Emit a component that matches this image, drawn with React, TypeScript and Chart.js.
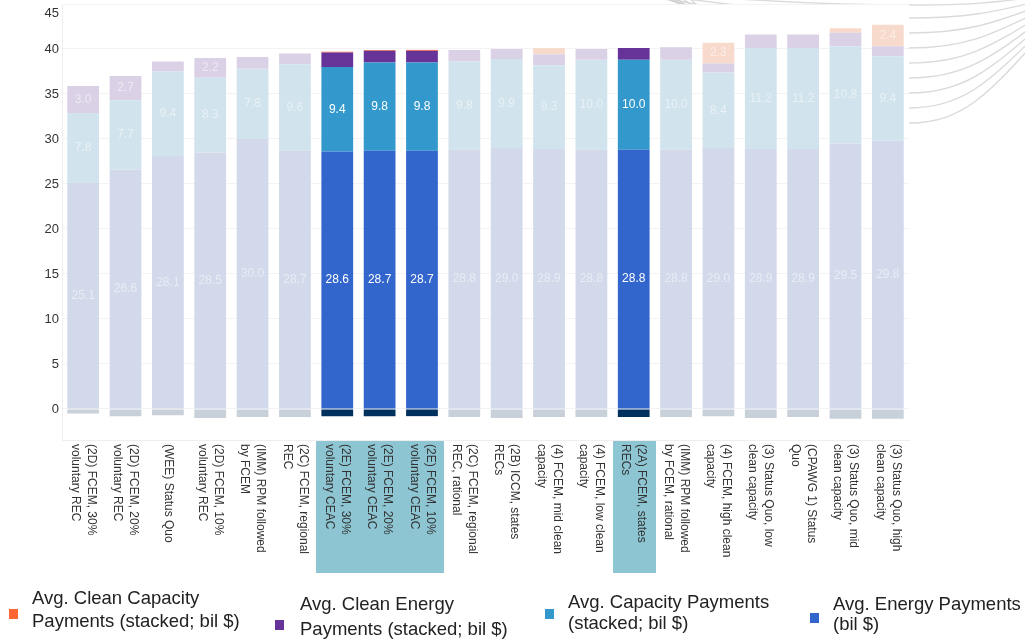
import React, { useEffect, useRef } from "react";
import { Chart, registerables } from "chart.js";

Chart.register(...registerables);

// ---------------- DATA ----------------
const categories: string[][] = [
  ["(2D) FCEM, 30%", "voluntary REC"],
  ["(2D) FCEM, 20%", "voluntary REC"],
  ["(WEE) Status Quo"],
  ["(2D) FCEM, 10%", "voluntary REC"],
  ["(IMM) RPM followed", "by FCEM"],
  ["(2C) FCEM, regional", "REC"],
  ["(2E) FCEM, 30%", "voluntary CEAC"],
  ["(2E) FCEM, 20%", "voluntary CEAC"],
  ["(2E) FCEM, 10%", "voluntary CEAC"],
  ["(2C) FCEM, regional", "REC, rational"],
  ["(2B) ICCM, states", "RECs"],
  ["(4) FCEM, mid clean", "capacity"],
  ["(4) FCEM, low clean", "capacity"],
  ["(2A) FCEM, states", "RECs"],
  ["(IMM) RPM followed", "by FCEM, rational"],
  ["(4) FCEM, high clean", "capacity"],
  ["(3) Status Quo, low", "clean capacity"],
  ["(CPAWG 1) Status", "Quo"],
  ["(3) Status Quo, mid", "clean capacity"],
  ["(3) Status Quo, high", "clean capacity"],
];

const highlighted: number[] = [6, 7, 8, 13];

const energyPayments: number[] = [25.1, 26.6, 28.1, 28.5, 30.0, 28.7, 28.6, 28.7, 28.7, 28.8, 29.0, 28.9, 28.8, 28.8, 28.8, 29.0, 28.9, 28.9, 29.5, 29.8];
const capacityPayments: number[] = [7.8, 7.7, 9.4, 8.3, 7.8, 9.6, 9.4, 9.8, 9.8, 9.8, 9.9, 9.3, 10.0, 10.0, 10.0, 8.4, 11.2, 11.2, 10.8, 9.4];
const cleanEnergyPayments: number[] = [3.0, 2.7, 1.1, 2.2, 1.3, 1.2, 1.6, 1.3, 1.3, 1.3, 1.1, 1.2, 1.2, 1.3, 1.4, 1.0, 1.5, 1.5, 1.5, 1.1];
const cleanCapacityPayments: number[] = [0, 0, 0, 0, 0, 0, 0.1, 0.1, 0.1, 0, 0, 0.7, 0, 0, 0, 2.3, 0, 0, 0.5, 2.4];
const otherPayments: number[] = [-0.5, -0.8, -0.7, -1.0, -0.9, -0.9, -0.8, -0.8, -0.8, -0.9, -1.0, -0.9, -0.9, -0.9, -0.9, -0.8, -1.0, -0.9, -1.1, -1.1];

const yTicks: number[] = [0, 5, 10, 15, 20, 25, 30, 35, 40, 45];

const cleanCapacityLabel: string[] = ["Avg. Clean Capacity", "Payments (stacked; bil $)"];
const cleanEnergyLabel: string[] = ["Avg. Clean Energy", "Payments (stacked; bil $)"];
const capacityLabel: string[] = ["Avg. Capacity Payments", "(stacked; bil $)"];
const energyLabel: string[] = ["Avg. Energy Payments", "(bil $)"];
const otherLabel: string[] = ["Other Payments (bil $)"];

// ---------------- STYLE ----------------
const FONT = '"Liberation Sans", Arial, sans-serif';

const colors = {
  energy: ["#3366cc", "#d1d9ea"],
  capacity: ["#3399cc", "#d1e3ec"],
  cleanEnergy: ["#663399", "#dbd1e6"],
  cleanCapacity: ["#ff6633", "#f8dacd"],
  other: ["#00305e", "#c8d0da"],
};

const colorArr = (pair: string[]) =>
  categories.map((_, i) => (highlighted.includes(i) ? pair[0] : pair[1]));

// legend layout (order: clean capacity, clean energy, capacity, energy)
const legendLayout = [
  { sq: [9, 609], tx: 32, l1: 599, l2: 622 },
  { sq: [275, 620], tx: 300, l1: 605, l2: 630 },
  { sq: [545, 609], tx: 568, l1: 603, l2: 624 },
  { sq: [810, 613], tx: 833, l1: 605, l2: 625 },
];

const customPlugin = {
  id: "custom",
  beforeDraw(chart: any) {
    const { ctx, chartArea: a } = chart;
    ctx.save();
    // decorative background curves (top right)
    ctx.strokeStyle = "rgba(205,205,205,0.75)";
    ctx.lineWidth = 1.4;
    const ys = [5, 18, 33, 48, 63, 78, 93, 108, 123];
    ys.forEach((y, k) => {
      ctx.beginPath();
      ctx.moveTo(600 + k * 10, -12);
      ctx.bezierCurveTo(760, y * 0.6, 860, y, a.right, y);
      ctx.bezierCurveTo(a.right + 55, y, 990, y * 0.75, 1045, y * 0.3 - 6);
      ctx.stroke();
    });
    // white plot background
    ctx.fillStyle = "#ffffff";
    ctx.fillRect(a.left, a.top, a.right - a.left, a.bottom - a.top);
    // highlight boxes behind x labels
    const xs = chart.scales.x;
    const cw = (a.right - a.left) / categories.length;
    ctx.fillStyle = "#8dc5d3";
    highlighted.forEach((i) => {
      const cx = xs.getPixelForValue(i);
      ctx.fillRect(Math.round(cx - cw / 2), a.bottom, Math.round(cw) + 1, 573 - a.bottom);
    });
    ctx.restore();
  },
  afterDatasetsDraw(chart: any) {
    const { ctx } = chart;
    ctx.save();
    ctx.font = `12px ${FONT}`;
    ctx.textAlign = "center";
    ctx.textBaseline = "middle";
    chart.data.datasets.forEach((ds: any, di: number) => {
      if (ds.showLabels === false) return;
      const meta = chart.getDatasetMeta(di);
      meta.data.forEach((el: any, i: number) => {
        const v = ds.data[i];
        if (v < (ds.minLabel ?? 0) || v <= 0) return;
        const { x, y, base } = el.getProps(["x", "y", "base"], true);
        ctx.fillStyle = highlighted.includes(i) ? "#ffffff" : "rgba(255,255,255,0.5)";
        ctx.fillText(v.toFixed(1), x, (y + base) / 2);
      });
    });
    ctx.restore();
  },
  afterDraw(chart: any) {
    const { ctx, chartArea: a } = chart;
    const xs = chart.scales.x;
    const ysc = chart.scales.y;
    ctx.save();
    // y tick labels
    ctx.font = `13px ${FONT}`;
    ctx.fillStyle = "#333333";
    ctx.textAlign = "right";
    ctx.textBaseline = "middle";
    ysc.ticks.forEach((t: any) => {
      const y = Math.max(ysc.getPixelForValue(t.value), 13);
      ctx.fillText(String(t.value), a.left - 3, y);
    });
    // x labels rotated clockwise
    ctx.font = `12px ${FONT}`;
    ctx.textAlign = "left";
    ctx.textBaseline = "middle";
    categories.forEach((lines, i) => {
      const cx = xs.getPixelForValue(i);
      const n = lines.length;
      lines.forEach((line, j) => {
        const off = ((n - 1) / 2 - j) * 16;
        ctx.save();
        ctx.translate(cx + off, a.bottom + 4);
        ctx.rotate(Math.PI / 2);
        ctx.fillStyle = "#333333";
        ctx.fillText(line, 0, 0);
        ctx.restore();
      });
    });
    // legend
    const order = [3, 2, 1, 0]; // dataset indices: clean capacity, clean energy, capacity, energy
    ctx.font = `18.5px ${FONT}`;
    ctx.textAlign = "left";
    ctx.textBaseline = "middle";
    order.forEach((di, k) => {
      const ds = chart.data.datasets[di];
      const L = legendLayout[k];
      ctx.fillStyle = ds.legendColor;
      ctx.fillRect(L.sq[0], L.sq[1], 9, 10);
      ctx.fillStyle = "#222222";
      ctx.fillText(ds.legendLines[0], L.tx, L.l1);
      if (ds.legendLines[1]) ctx.fillText(ds.legendLines[1], L.tx, L.l2);
    });
    ctx.restore();
  },
};

export default function App() {
  const ref = useRef<HTMLCanvasElement | null>(null);
  useEffect(() => {
    if (!ref.current) return;
    Chart.defaults.font.family = FONT;
    const chart = new Chart(ref.current, {
      type: "bar",
      data: {
        labels: categories.map((c) => c.join(" ")),
        datasets: [
          {
            label: energyLabel.join(" "),
            data: energyPayments,
            backgroundColor: colorArr(colors.energy),
            legendColor: colors.energy[0],
            legendLines: energyLabel,
            minLabel: 0,
          } as any,
          {
            label: capacityLabel.join(" "),
            data: capacityPayments,
            backgroundColor: colorArr(colors.capacity),
            legendColor: colors.capacity[0],
            legendLines: capacityLabel,
            minLabel: 0,
          } as any,
          {
            label: cleanEnergyLabel.join(" "),
            data: cleanEnergyPayments,
            backgroundColor: colorArr(colors.cleanEnergy),
            legendColor: colors.cleanEnergy[0],
            legendLines: cleanEnergyLabel,
            minLabel: 2,
          } as any,
          {
            label: cleanCapacityLabel.join(" "),
            data: cleanCapacityPayments,
            backgroundColor: colorArr(colors.cleanCapacity),
            legendColor: colors.cleanCapacity[0],
            legendLines: cleanCapacityLabel,
            minLabel: 2,
          } as any,
          {
            label: otherLabel.join(" "),
            data: otherPayments,
            backgroundColor: colorArr(colors.other),
            showLabels: false,
          } as any,
        ],
      },
      options: {
        responsive: false,
        animation: false,
        layout: { padding: { left: 62, right: 116, top: 4, bottom: 200 } },
        datasets: { bar: { barPercentage: 0.75, categoryPercentage: 1 } },
        plugins: { legend: { display: false }, tooltip: { enabled: false } },
        scales: {
          x: {
            stacked: true,
            grid: { display: false, drawTicks: false },
            border: { display: true, color: "#eeeeee" },
            ticks: { display: false },
          },
          y: {
            stacked: true,
            min: -3.45,
            max: 45,
            afterBuildTicks: (s: any) => {
              s.ticks = yTicks.map((v) => ({ value: v }));
            },
            grid: { color: "#f3f3f3", drawTicks: false },
            border: { display: true, color: "#eeeeee" },
            ticks: { display: false },
          },
        },
      },
      plugins: [customPlugin],
    } as any);
    return () => chart.destroy();
  }, []);
  return (
    <div style={{ position: "absolute", left: 0, top: 0, width: 1025, height: 640 }}>
      <canvas ref={ref} width={1025} height={640} />
    </div>
  );
}
